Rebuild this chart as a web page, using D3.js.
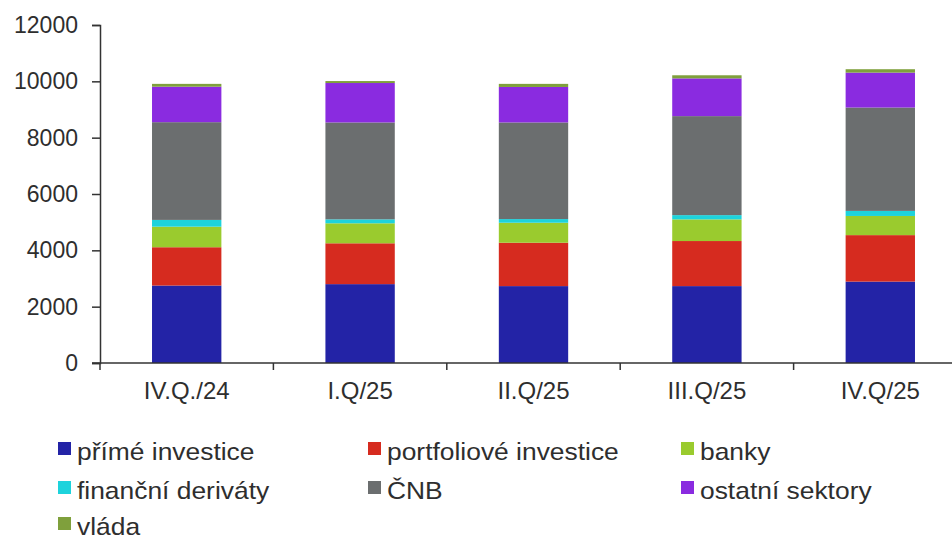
<!DOCTYPE html>
<html><head><meta charset="utf-8">
<script src="https://cdn.jsdelivr.net/npm/d3@7"></script>
<style>body{margin:0;background:#fff}svg{display:block}text{font-family:"Liberation Sans",Arial,sans-serif;fill:#2e2e2e}</style>
</head><body><div id="c"></div>
<script>
const categories = ["IV.Q./24", "I.Q/25", "II.Q/25", "III.Q/25", "IV.Q/25"];
const seriesNames = ["přímé investice", "portfoliové investice", "banky", "finanční deriváty", "ČNB", "ostatní sektory", "vláda"];
const primeInvestice = [2750, 2800, 2730, 2730, 2890];
const portfolioveInvestice = [1360, 1450, 1540, 1600, 1650];
const banky = [730, 710, 710, 770, 680];
const financniDerivaty = [240, 140, 130, 150, 180];
const cnb = [3470, 3440, 3430, 3515, 3670];
const ostatniSektory = [1260, 1400, 1260, 1340, 1240];
const vlada = [100, 70, 110, 110, 120];
const yTicks = [0, 2000, 4000, 6000, 8000, 10000, 12000];
const colors = ["#2323a6", "#d62b1f", "#9acb2e", "#1dd3dc", "#6b6e6f", "#8a2be0", "#7fa03c"];

const seriesValues = [primeInvestice, portfolioveInvestice, banky, financniDerivaty, cnb, ostatniSektory, vlada];
const rows = categories.map((c, i) => {
  const r = {cat: c};
  seriesNames.forEach((s, j) => r[s] = seriesValues[j][i]);
  return r;
});
const stack = d3.stack().keys(seriesNames)(rows);

const W = 952, H = 541;
const svg = d3.select("#c").append("svg").attr("width", W).attr("height", H);
const x = d3.scaleBand().domain(categories).range([100, 967]).paddingInner(0.6).paddingOuter(0.3);
const y = d3.scaleLinear().domain([0, 12000]).range([363, 25]);

svg.append("g").selectAll("g").data(stack).join("g")
  .attr("fill", (d, i) => colors[i])
  .selectAll("rect").data(d => d).join("rect")
  .attr("x", d => x(d.data.cat)).attr("width", x.bandwidth())
  .attr("y", d => y(d[1])).attr("height", d => y(d[0]) - y(d[1]));

// y axis
const yAxis = d3.axisLeft(y).tickValues(yTicks).tickSize(8).tickPadding(14).tickFormat(d3.format("d"));
const gy = svg.append("g").attr("transform", "translate(100,0)").call(yAxis);
gy.select(".domain").attr("stroke", "#333").attr("stroke-width", 1.5);
gy.selectAll(".tick line").attr("stroke", "#333").attr("stroke-width", 1.5);
gy.selectAll(".tick text").attr("font-size", 23).attr("font-family", "Liberation Sans, Arial, sans-serif").attr("fill", "#2e2e2e");

// x axis
svg.append("line").attr("x1", 92).attr("x2", W).attr("y1", y(0)).attr("y2", y(0)).attr("stroke", "#333").attr("stroke-width", 1.5);
const step = x.step();
const bounds = categories.map((c, i) => x(c) - x.paddingOuter() * step);
svg.append("g").selectAll("line").data(bounds).join("line")
  .attr("x1", d => d).attr("x2", d => d).attr("y1", y(0)).attr("y2", y(0) + 7)
  .attr("stroke", "#333").attr("stroke-width", 1.5);
svg.append("g").selectAll("text").data(categories).join("text")
  .attr("x", d => x(d) + x.bandwidth() / 2).attr("y", 399)
  .attr("text-anchor", "middle").attr("font-size", 24).text(d => d);

// legend
const legPos = [[58, 460], [368, 460], [681, 460], [58, 499], [368, 499], [681, 499], [58, 535]];
const lg = svg.append("g").selectAll("g").data(seriesNames).join("g")
  .attr("transform", (d, i) => `translate(${legPos[i][0]},${legPos[i][1]})`);
lg.append("rect").attr("x", 0).attr("y", -18).attr("width", 13).attr("height", 13).attr("fill", (d, i) => colors[i]);
lg.append("text").attr("transform", "translate(19,0) scale(1.1,1)").attr("font-size", 24).text(d => d);
</script></body></html>
